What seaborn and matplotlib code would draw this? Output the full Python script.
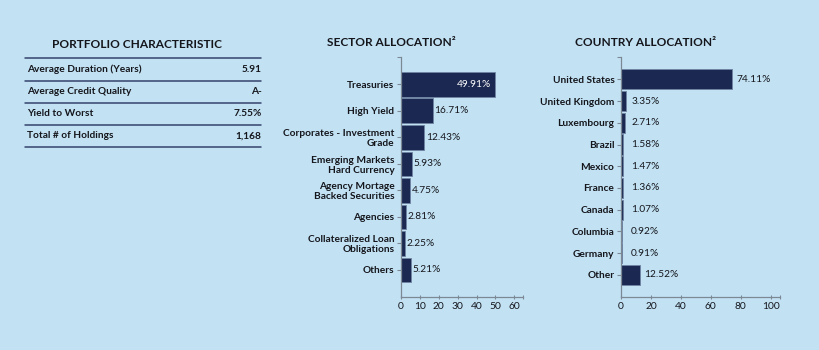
import matplotlib.pyplot as plt
import seaborn as sns
import pandas as pd

# portfolio characteristic table
char_labels = ['Average Duration (Years)', 'Average Credit Quality', 'Yield to Worst', 'Total # of Holdings']
char_values = ['5.91', 'A-', '7.55%', '1,168']

# sector allocation (%)
sector_names = ['Treasuries', 'High Yield', 'Corporates - Investment\nGrade',
                'Emerging Markets\nHard Currency', 'Agency Mortage\nBacked Securities',
                'Agencies', 'Collateralized Loan\nObligations', 'Others']
sector_pct = [49.91, 16.71, 12.43, 5.93, 4.75, 2.81, 2.25, 5.21]
sector_ticks = [0, 10, 20, 30, 40, 50, 60]

# country allocation (%)
country_names = ['United States', 'United Kingdom', 'Luxembourg', 'Brazil', 'Mexico',
                 'France', 'Canada', 'Columbia', 'Germany', 'Other']
country_pct = [74.11, 3.35, 2.71, 1.58, 1.47, 1.36, 1.07, 0.92, 0.91, 12.52]
country_ticks = [0, 20, 40, 60, 80, 100]

BG = '#c2e2f4'
NAVY = '#1b2851'
GREY = '#7d8895'
TXT = '#15161c'

sns.set_theme(style='ticks')
plt.rcParams['font.family'] = ['Lato', 'DejaVu Sans']

fig = plt.figure(figsize=(8.2, 3.5), dpi=100, facecolor=BG)


def alloc_chart(rect, names, pct, xmax, ticks, label_pad, min_x=0.0, inside=()):
    ax = fig.add_axes(rect)
    ax.set_facecolor(BG)
    df = pd.DataFrame({'name': names, 'pct': pct})
    sns.barplot(data=df, x='pct', y='name', ax=ax, color=NAVY, saturation=1,
                width=0.93, edgecolor='#6f84a3', linewidth=0.6)
    n = len(names)
    ax.set_xlim(0, xmax)
    ax.set_ylim(n - 1 + 1.03, -1.04)
    ax.set_xticks(ticks)
    ax.set_yticks(range(n), names)
    ax.set_yticks([-1.04], minor=True)
    ax.set_xticks([xmax], minor=True)
    ax.set_xlabel('')
    ax.set_ylabel('')
    for s in ['top', 'right']:
        ax.spines[s].set_visible(False)
    for s in ['left', 'bottom']:
        ax.spines[s].set_color(GREY)
        ax.spines[s].set_linewidth(0.9)
    ax.tick_params(axis='y', which='both', length=3.2, width=0.8, color=GREY, pad=1.5,
                   labelsize=7.3, labelcolor=TXT)
    ax.tick_params(axis='x', which='both', direction='inout', length=3.5, width=0.8,
                   color=GREY, pad=1.5, labelsize=7.4, labelcolor=TXT)
    for lab in ax.get_yticklabels():
        lab.set_fontweight('bold')
        lab.set_linespacing(1.1)
        lab.set_horizontalalignment('right')
        lab.set_multialignment('right')
    for i, v in enumerate(pct):
        txt = f'{v:.2f}%'
        if i in inside:
            ax.annotate(txt, (v, i), xytext=(-3, 0), textcoords='offset points',
                        ha='right', va='center', fontsize=7.3, color='white')
        else:
            ax.annotate(txt, (max(v, min_x), i), xytext=(label_pad, 0),
                        textcoords='offset points', ha='left', va='center',
                        fontsize=7.3, color=TXT)
    return ax


ax_s = alloc_chart([401 / 820, 1 - 297.3 / 350, 121.7 / 820, 240.6 / 350],
                   sector_names, sector_pct, 64.4, sector_ticks, 1.2, inside=(0,))
ax_c = alloc_chart([621 / 820, 1 - 297.3 / 350, 159 / 820, 240.6 / 350],
                   country_names, country_pct, 106.2, country_ticks, 3.0, min_x=4.0)

# section titles
fig.text(137 / 820, 1 - 44 / 350, 'PORTFOLIO CHARACTERISTIC', ha='center', va='center',
         fontsize=8.6, fontweight='bold', color=TXT)
fig.text(391 / 820, 1 - 43 / 350, 'SECTOR ALLOCATION\u00b2', ha='center', va='center',
         fontsize=8.6, fontweight='bold', color=TXT)
fig.text(646 / 820, 1 - 43 / 350, 'COUNTRY ALLOCATION\u00b2', ha='center', va='center',
         fontsize=8.6, fontweight='bold', color=TXT)

# characteristic table
row_h = 22.2
top_line = 58.3
x0, x1 = 25 / 820, 261 / 820
for k in range(len(char_labels) + 1):
    y = 1 - (top_line + k * row_h) / 350
    fig.add_artist(plt.Line2D([x0, x1], [y, y], color='#34426a', lw=1.1))
for k, (lab, val) in enumerate(zip(char_labels, char_values)):
    y = 1 - (top_line + (k + 0.5) * row_h) / 350
    fig.text(27 / 820, y, lab, ha='left', va='center', fontsize=7.3, fontweight='bold', color=TXT)
    fig.text(261.5 / 820, y, val, ha='right', va='center', fontsize=7.3, fontweight='bold', color=TXT)

fig.savefig('out.png', dpi=100, facecolor=BG)
